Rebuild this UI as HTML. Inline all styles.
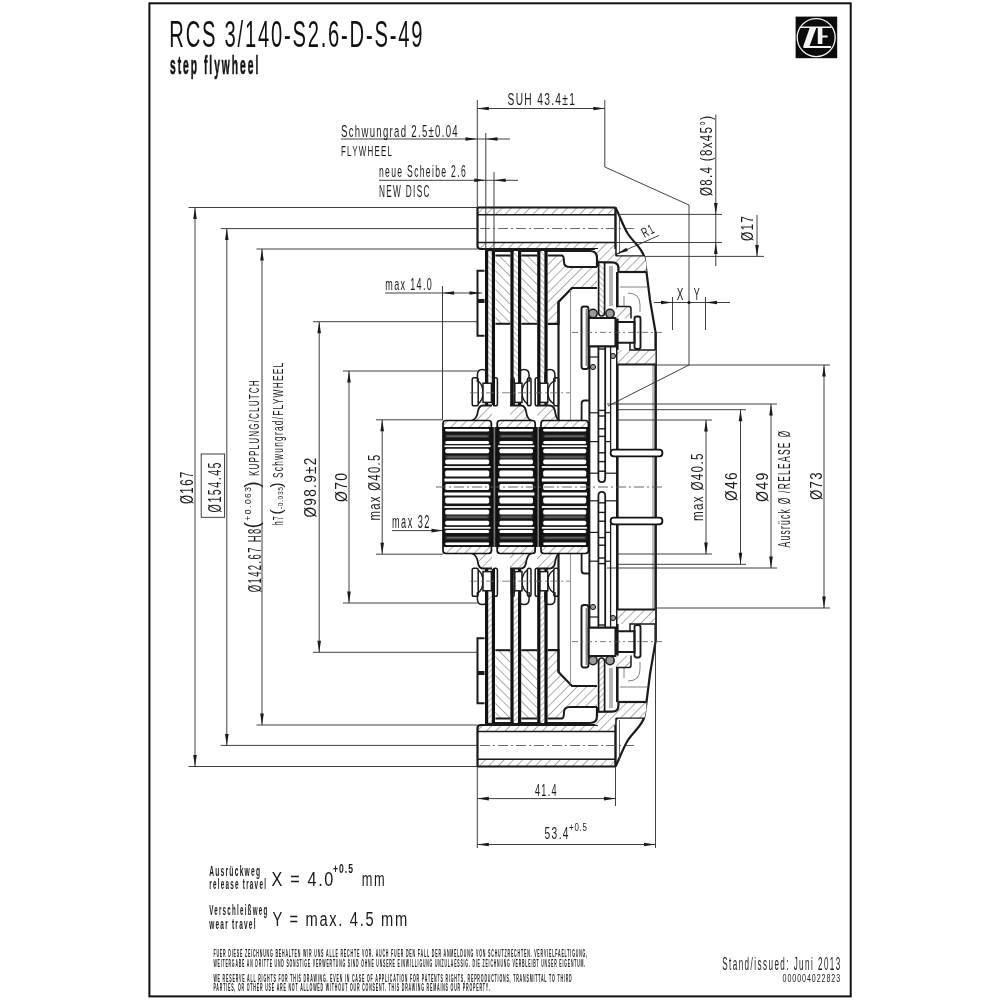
<!DOCTYPE html>
<html><head><meta charset="utf-8"><style>
html,body{margin:0;padding:0;background:#fff;width:1000px;height:1000px;overflow:hidden}
svg{display:block;will-change:transform}
text{font-family:"Liberation Sans",sans-serif}
</style></head><body>
<svg width="1000" height="1000" viewBox="0 0 1000 1000" font-family="Liberation Sans, sans-serif" stroke-linecap="butt">
<defs>
<pattern id="h" patternUnits="userSpaceOnUse" width="6.6" height="6.6" patternTransform="rotate(45)">
<rect width="6.6" height="6.6" fill="#fff"/><line x1="0" y1="0" x2="0" y2="6.6" stroke="#5a5a5a" stroke-width="1.0"/></pattern>
<pattern id="hm" patternUnits="userSpaceOnUse" width="6.6" height="6.6" patternTransform="rotate(-45)">
<rect width="6.6" height="6.6" fill="#fff"/><line x1="0" y1="0" x2="0" y2="6.6" stroke="#5a5a5a" stroke-width="1.0"/></pattern>
<pattern id="hb" patternUnits="userSpaceOnUse" width="6.6" height="6.6" patternTransform="rotate(-45)">
<rect width="6.6" height="6.6" fill="#fff"/><line x1="0" y1="0" x2="0" y2="6.6" stroke="#5a5a5a" stroke-width="1.0"/></pattern>
<pattern id="hbm" patternUnits="userSpaceOnUse" width="6.6" height="6.6" patternTransform="rotate(45)">
<rect width="6.6" height="6.6" fill="#fff"/><line x1="0" y1="0" x2="0" y2="6.6" stroke="#5a5a5a" stroke-width="1.0"/></pattern>
<pattern id="h2" patternUnits="userSpaceOnUse" width="4" height="4" patternTransform="rotate(-45)">
<rect width="4" height="4" fill="#fff"/><line x1="0" y1="0" x2="0" y2="4" stroke="#666" stroke-width="0.9"/></pattern>
</defs>
<rect width="1000" height="1000" fill="#fff"/>
<g id="top"><rect x="477.5" y="207.5" width="138" height="7.3" fill="url(#h)" stroke="none"/>
<rect x="477.5" y="242.5" width="138" height="6.5" fill="url(#h)" stroke="none"/>
<line x1="477.5" y1="207.5" x2="615.5" y2="207.5" stroke="#1a1a1a" stroke-width="2.2"/>
<line x1="477.5" y1="214.8" x2="615.5" y2="214.8" stroke="#1a1a1a" stroke-width="1.5"/>
<line x1="477.5" y1="242.5" x2="615.5" y2="242.5" stroke="#1a1a1a" stroke-width="1.5"/>
<path d="M477.5,207.5 V246 Q477.5,249 481,249 H598" stroke="#1a1a1a" stroke-width="2.2" fill="none" />
<path d="M615.5,207.5 V253 Q615.5,256.4 619,256.4 H644.5" stroke="#1a1a1a" stroke-width="2.4" fill="none" />
<line x1="480" y1="228.5" x2="634" y2="228.5" stroke="#444" stroke-width="0.8" stroke-dasharray="10,3,2,3"/>
<path d="M615.5,207.5 C619,214 623,226 628,234 C634,243 643,249 644.5,258 L646,268 L650,300 L655.5,332 V487" stroke="#1a1a1a" stroke-width="2.2" fill="none" />
<path d="M595,249 H615.2 V256.4 H644.5 L646.4,264 L646.4,272 H618.4 V268 Q617,262.4 612,262.4 H597 Q595.5,262 595.5,258 Z" fill="url(#h)" stroke="none"/>
<path d="M597,262.4 H612 Q618.4,262.4 618.4,268 V272" stroke="#1a1a1a" stroke-width="2.2" fill="none" />
<line x1="618.4" y1="272" x2="646.4" y2="272" stroke="#1a1a1a" stroke-width="2.2"/>
<line x1="619.5" y1="215" x2="619.5" y2="254" stroke="#444" stroke-width="0.8"/>
<line x1="617.3" y1="272" x2="617.3" y2="487" stroke="#1a1a1a" stroke-width="2.6"/>
<line x1="653" y1="365" x2="653" y2="487" stroke="#555" stroke-width="0.8"/>
<line x1="656" y1="332" x2="656" y2="487" stroke="#1a1a1a" stroke-width="1.5"/>
<path d="M617.5,350 H655.5 V364.5 H617.5 Z" fill="url(#h)" stroke="none"/>
<line x1="617.5" y1="364.5" x2="655.5" y2="364.5" stroke="#1a1a1a" stroke-width="2.2"/>
<path d="M630,343 V350 H655.5" stroke="#1a1a1a" stroke-width="1.5" fill="none" />
<line x1="620" y1="287" x2="648" y2="287" stroke="#666" stroke-width="0.8"/>
<path d="M628,293 Q640,293 640,305 V312" stroke="#666" stroke-width="0.8" fill="none" />
<path d="M624,296 V312" stroke="#666" stroke-width="0.8" fill="none" />
<path d="M485,251 H590 Q597,251 597,258 V267" stroke="#1a1a1a" stroke-width="2.2" fill="none" />
<rect x="495.4" y="255.5" width="15" height="68.3" fill="url(#hb)"/>
<line x1="495.4" y1="255.5" x2="510.4" y2="255.5" stroke="#1a1a1a" stroke-width="2.0"/>
<line x1="495.4" y1="323.8" x2="510.4" y2="323.8" stroke="#1a1a1a" stroke-width="2.0"/>
<rect x="521.4" y="255.5" width="15.6" height="68.3" fill="url(#hb)"/>
<line x1="521.4" y1="255.5" x2="537" y2="255.5" stroke="#1a1a1a" stroke-width="2.0"/>
<line x1="521.4" y1="323.8" x2="537" y2="323.8" stroke="#1a1a1a" stroke-width="2.0"/>
<path d="M547.6,256 H563 Q565,267 570,267 H597 V288 H572 L558.5,302 V323.8 H547.6 Z" fill="url(#h)" stroke="none"/>
<path d="M547.6,255.5 H562 Q564,256 564,262 Q564,267 570,267 H597" stroke="#1a1a1a" stroke-width="2.0" fill="none" />
<path d="M597,288 H572 L558.5,302 V323.8 H547.6" stroke="#1a1a1a" stroke-width="2.2" fill="none" />
<line x1="558.5" y1="302" x2="558.5" y2="420" stroke="#1a1a1a" stroke-width="2.2"/>
<line x1="570.5" y1="290" x2="570.5" y2="420" stroke="#888" stroke-width="0.9"/>
<rect x="488.2" y="251" width="3.6" height="127" fill="url(#h2)"/>
<rect x="485" y="251" width="3.2" height="154" fill="#111"/>
<rect x="491.8" y="251" width="3.2" height="154" fill="#111"/>
<rect x="513.6" y="251" width="4.4" height="127" fill="url(#h2)"/>
<rect x="510.4" y="251" width="3.2" height="154" fill="#111"/>
<rect x="518" y="251" width="3.2" height="154" fill="#111"/>
<rect x="540.4" y="251" width="4" height="127" fill="url(#h2)"/>
<rect x="537.2" y="251" width="3.2" height="154" fill="#111"/>
<rect x="544.4" y="251" width="3.2" height="154" fill="#111"/>
<path d="M484.5,270.8 H477.5 V300 H484.5" stroke="#1a1a1a" stroke-width="2.0" fill="none" />
<path d="M484.5,302 H477.5 V335.8 H484.5" stroke="#1a1a1a" stroke-width="2.0" fill="none" />
<path d="M477.4,382 V375 Q477.4,369.4 482.4,369.4 Q487.4,369.4 487.4,375 V382" fill="none" stroke="#1a1a1a" stroke-width="1.5"/>
<rect x="472.2" y="377.8" width="6" height="28" rx="1.8" fill="none" stroke="#1a1a1a" stroke-width="1.5"/>
<rect x="493.2" y="377.8" width="4.2" height="28" rx="1.8" fill="none" stroke="#1a1a1a" stroke-width="1.5"/>
<path d="M478.2,381 Q483,385 483,392.8 Q483,400 478.2,404 M493.2,381 Q491.4,385 491.4,392.8 Q491.4,400 493.2,404" fill="none" stroke="#1a1a1a" stroke-width="1.5"/>
<rect x="483" y="383.2" width="8.4" height="19.2" fill="#fff" stroke="#1a1a1a" stroke-width="1.5"/>
<path d="M519.1,382 V375 Q519.1,369.4 524.1,369.4 Q529.1,369.4 529.1,375 V382" fill="none" stroke="#1a1a1a" stroke-width="1.5"/>
<rect x="511.2" y="377.8" width="3" height="28" rx="1.8" fill="none" stroke="#1a1a1a" stroke-width="1.5"/>
<rect x="527.4" y="377.8" width="3.6" height="28" rx="1.8" fill="none" stroke="#1a1a1a" stroke-width="1.5"/>
<path d="M514.2,381 Q514.8,385 514.8,392.8 Q514.8,400 514.2,404 M527.4,381 Q522,385 522,392.8 Q522,400 527.4,404" fill="none" stroke="#1a1a1a" stroke-width="1.5"/>
<rect x="514.8" y="383.2" width="7.2" height="19.2" fill="#fff" stroke="#1a1a1a" stroke-width="1.5"/>
<path d="M544.9,382 V375 Q544.9,369.4 549.9,369.4 Q554.9,369.4 554.9,375 V382" fill="none" stroke="#1a1a1a" stroke-width="1.5"/>
<rect x="535.2" y="377.8" width="4.2" height="28" rx="1.8" fill="none" stroke="#1a1a1a" stroke-width="1.5"/>
<rect x="553.8" y="377.8" width="4.8" height="28" rx="1.8" fill="none" stroke="#1a1a1a" stroke-width="1.5"/>
<path d="M539.4,381 Q540,385 540,392.8 Q540,400 539.4,404 M553.8,381 Q547.8,385 547.8,392.8 Q547.8,400 553.8,404" fill="none" stroke="#1a1a1a" stroke-width="1.5"/>
<rect x="540" y="383.2" width="7.8" height="19.2" fill="#fff" stroke="#1a1a1a" stroke-width="1.5"/>
<path d="M471.8,420.5 Q477,419 478,411 Q479,405.5 483,405.5 H492 V420.5 Z" fill="url(#h)" stroke="none"/>
<path d="M471.8,420.5 Q477,419 478,411 Q479,405.5 483,405.5 H492" stroke="#1a1a1a" stroke-width="1.8" fill="none" />
<path d="M510,405.5 H520.8 Q525,405.5 526,411 Q527,419 531.3,420.5 H510 Z" fill="url(#h)" stroke="none"/>
<path d="M510,405.5 H520.8 Q525,405.5 526,411 Q527,419 531.3,420.5" stroke="#1a1a1a" stroke-width="1.8" fill="none" />
<path d="M537,405.5 H549.5 Q554,405.5 555,411 Q556,419 559.3,420.5 H537 Z" fill="url(#h)" stroke="none"/>
<path d="M537,405.5 H549.5 Q554,405.5 555,411 Q556,419 559.3,420.5" stroke="#1a1a1a" stroke-width="1.8" fill="none" />
<line x1="470" y1="392.8" x2="570" y2="392.8" stroke="#666" stroke-width="0.8" stroke-dasharray="8,3,2,3"/>
<rect x="581.5" y="306.5" width="7" height="62.5" rx="2.5" fill="#fff" stroke="#1a1a1a" stroke-width="1.9"/>
<rect x="634.5" y="316.5" width="6" height="32.5" rx="2.2" fill="#fff" stroke="#1a1a1a" stroke-width="1.9"/>
<circle cx="593" cy="313.5" r="4.2" fill="#9a9a9a" stroke="#1a1a1a" stroke-width="1.5"/>
<circle cx="610" cy="313.5" r="4.2" fill="#9a9a9a" stroke="#1a1a1a" stroke-width="1.5"/>
<path d="M588.5,318 H615.5 V346.4 H588.5 Z" stroke="#1a1a1a" stroke-width="2.1" fill="none" />
<line x1="572" y1="332.4" x2="664" y2="332.4" stroke="#555" stroke-width="0.8" stroke-dasharray="6,3,2,3"/>
<rect x="585.6" y="309" width="2" height="57" fill="#888"/>
<path d="M615.5,322 H634.5 V342.7 H615.5" stroke="#1a1a1a" stroke-width="2.0" fill="none" />
<path d="M616,306.5 H631 V318.5 H616 Z" fill="url(#h)" stroke="none"/>
<path d="M616,306.5 H629 Q631,306.5 631,309 V318.5" stroke="#1a1a1a" stroke-width="1.5" fill="none" />
<circle cx="613" cy="356" r="2.6" fill="#999" stroke="#1a1a1a" stroke-width="1"/>
<circle cx="593" cy="367" r="2.6" fill="#999" stroke="#1a1a1a" stroke-width="1"/>
<line x1="589.4" y1="346" x2="589.4" y2="487" stroke="#1a1a1a" stroke-width="2.0"/>
<path d="M581.6,420.5 V403.5 Q581.6,400.5 584.5,400.5 H589" stroke="#1a1a1a" stroke-width="1.8" fill="none" />
<path d="M598.6,262.5 V312 Q598.6,316 601.6,316 Q604.6,316 604.6,312 V262.5 Z" fill="url(#h2)" stroke="#1a1a1a" stroke-width="1.7"/>
<line x1="610" y1="266" x2="610" y2="306" stroke="#444" stroke-width="0.8"/>
<line x1="612" y1="266" x2="612" y2="306" stroke="#444" stroke-width="0.8"/>
<path d="M598.4,346 V478.5 Q598.4,482.2 601.8,482.2 Q605.2,482.2 605.2,478.5 V346" stroke="#1a1a1a" stroke-width="1.8" fill="none" />
<line x1="598.4" y1="349" x2="605.2" y2="349" stroke="#1a1a1a" stroke-width="1.4"/>
<line x1="598.4" y1="410.4" x2="605.2" y2="410.4" stroke="#1a1a1a" stroke-width="1.4"/>
<line x1="598.4" y1="416" x2="605.2" y2="416" stroke="#1a1a1a" stroke-width="1.4"/>
<line x1="598.4" y1="428.8" x2="605.2" y2="428.8" stroke="#1a1a1a" stroke-width="1.4"/>
<line x1="598.4" y1="436.4" x2="605.2" y2="436.4" stroke="#1a1a1a" stroke-width="1.4"/>
<line x1="598.4" y1="452.8" x2="605.2" y2="452.8" stroke="#1a1a1a" stroke-width="1.4"/>
<line x1="598.4" y1="461.6" x2="605.2" y2="461.6" stroke="#1a1a1a" stroke-width="1.4"/>
<line x1="598.4" y1="471.2" x2="605.2" y2="471.2" stroke="#1a1a1a" stroke-width="1.4"/>
<line x1="589.4" y1="357" x2="598.4" y2="357" stroke="#1a1a1a" stroke-width="1.2"/>
<line x1="589.4" y1="412.8" x2="598.4" y2="412.8" stroke="#1a1a1a" stroke-width="1.2"/>
<line x1="589.4" y1="441.6" x2="598.4" y2="441.6" stroke="#1a1a1a" stroke-width="1.2"/>
<line x1="589.4" y1="473.2" x2="598.4" y2="473.2" stroke="#1a1a1a" stroke-width="1.2"/>
<line x1="605.2" y1="412.8" x2="610.6" y2="412.8" stroke="#1a1a1a" stroke-width="1.2"/>
<line x1="605.2" y1="441.6" x2="610.6" y2="441.6" stroke="#1a1a1a" stroke-width="1.2"/>
<line x1="605.2" y1="473.2" x2="617" y2="473.2" stroke="#1a1a1a" stroke-width="1.2"/>
<line x1="610.6" y1="346" x2="610.6" y2="450" stroke="#1a1a1a" stroke-width="1.3"/></g>
<g transform="matrix(1,0,0,-1,0,974)"><rect x="477.5" y="207.5" width="138" height="7.3" fill="url(#hm)" stroke="none"/>
<rect x="477.5" y="242.5" width="138" height="6.5" fill="url(#hm)" stroke="none"/>
<line x1="477.5" y1="207.5" x2="615.5" y2="207.5" stroke="#1a1a1a" stroke-width="2.2"/>
<line x1="477.5" y1="214.8" x2="615.5" y2="214.8" stroke="#1a1a1a" stroke-width="1.5"/>
<line x1="477.5" y1="242.5" x2="615.5" y2="242.5" stroke="#1a1a1a" stroke-width="1.5"/>
<path d="M477.5,207.5 V246 Q477.5,249 481,249 H598" stroke="#1a1a1a" stroke-width="2.2" fill="none" />
<path d="M615.5,207.5 V253 Q615.5,256.4 619,256.4 H644.5" stroke="#1a1a1a" stroke-width="2.4" fill="none" />
<line x1="480" y1="228.5" x2="634" y2="228.5" stroke="#444" stroke-width="0.8" stroke-dasharray="10,3,2,3"/>
<path d="M615.5,207.5 C619,214 623,226 628,234 C634,243 643,249 644.5,258 L646,268 L650,300 L655.5,332 V487" stroke="#1a1a1a" stroke-width="2.2" fill="none" />
<path d="M595,249 H615.2 V256.4 H644.5 L646.4,264 L646.4,272 H618.4 V268 Q617,262.4 612,262.4 H597 Q595.5,262 595.5,258 Z" fill="url(#hm)" stroke="none"/>
<path d="M597,262.4 H612 Q618.4,262.4 618.4,268 V272" stroke="#1a1a1a" stroke-width="2.2" fill="none" />
<line x1="618.4" y1="272" x2="646.4" y2="272" stroke="#1a1a1a" stroke-width="2.2"/>
<line x1="619.5" y1="215" x2="619.5" y2="254" stroke="#444" stroke-width="0.8"/>
<line x1="617.3" y1="272" x2="617.3" y2="487" stroke="#1a1a1a" stroke-width="2.6"/>
<line x1="653" y1="365" x2="653" y2="487" stroke="#555" stroke-width="0.8"/>
<line x1="656" y1="332" x2="656" y2="487" stroke="#1a1a1a" stroke-width="1.5"/>
<path d="M617.5,350 H655.5 V364.5 H617.5 Z" fill="url(#hm)" stroke="none"/>
<line x1="617.5" y1="364.5" x2="655.5" y2="364.5" stroke="#1a1a1a" stroke-width="2.2"/>
<path d="M630,343 V350 H655.5" stroke="#1a1a1a" stroke-width="1.5" fill="none" />
<line x1="620" y1="287" x2="648" y2="287" stroke="#666" stroke-width="0.8"/>
<path d="M628,293 Q640,293 640,305 V312" stroke="#666" stroke-width="0.8" fill="none" />
<path d="M624,296 V312" stroke="#666" stroke-width="0.8" fill="none" />
<path d="M485,251 H590 Q597,251 597,258 V267" stroke="#1a1a1a" stroke-width="2.2" fill="none" />
<rect x="495.4" y="255.5" width="15" height="68.3" fill="url(#hbm)"/>
<line x1="495.4" y1="255.5" x2="510.4" y2="255.5" stroke="#1a1a1a" stroke-width="2.0"/>
<line x1="495.4" y1="323.8" x2="510.4" y2="323.8" stroke="#1a1a1a" stroke-width="2.0"/>
<rect x="521.4" y="255.5" width="15.6" height="68.3" fill="url(#hbm)"/>
<line x1="521.4" y1="255.5" x2="537" y2="255.5" stroke="#1a1a1a" stroke-width="2.0"/>
<line x1="521.4" y1="323.8" x2="537" y2="323.8" stroke="#1a1a1a" stroke-width="2.0"/>
<path d="M547.6,256 H563 Q565,267 570,267 H597 V288 H572 L558.5,302 V323.8 H547.6 Z" fill="url(#hm)" stroke="none"/>
<path d="M547.6,255.5 H562 Q564,256 564,262 Q564,267 570,267 H597" stroke="#1a1a1a" stroke-width="2.0" fill="none" />
<path d="M597,288 H572 L558.5,302 V323.8 H547.6" stroke="#1a1a1a" stroke-width="2.2" fill="none" />
<line x1="558.5" y1="302" x2="558.5" y2="420" stroke="#1a1a1a" stroke-width="2.2"/>
<line x1="570.5" y1="290" x2="570.5" y2="420" stroke="#888" stroke-width="0.9"/>
<rect x="488.2" y="251" width="3.6" height="127" fill="url(#h2)"/>
<rect x="485" y="251" width="3.2" height="154" fill="#111"/>
<rect x="491.8" y="251" width="3.2" height="154" fill="#111"/>
<rect x="513.6" y="251" width="4.4" height="127" fill="url(#h2)"/>
<rect x="510.4" y="251" width="3.2" height="154" fill="#111"/>
<rect x="518" y="251" width="3.2" height="154" fill="#111"/>
<rect x="540.4" y="251" width="4" height="127" fill="url(#h2)"/>
<rect x="537.2" y="251" width="3.2" height="154" fill="#111"/>
<rect x="544.4" y="251" width="3.2" height="154" fill="#111"/>
<path d="M484.5,270.8 H477.5 V300 H484.5" stroke="#1a1a1a" stroke-width="2.0" fill="none" />
<path d="M484.5,302 H477.5 V335.8 H484.5" stroke="#1a1a1a" stroke-width="2.0" fill="none" />
<path d="M477.4,382 V375 Q477.4,369.4 482.4,369.4 Q487.4,369.4 487.4,375 V382" fill="none" stroke="#1a1a1a" stroke-width="1.5"/>
<rect x="472.2" y="377.8" width="6" height="28" rx="1.8" fill="none" stroke="#1a1a1a" stroke-width="1.5"/>
<rect x="493.2" y="377.8" width="4.2" height="28" rx="1.8" fill="none" stroke="#1a1a1a" stroke-width="1.5"/>
<path d="M478.2,381 Q483,385 483,392.8 Q483,400 478.2,404 M493.2,381 Q491.4,385 491.4,392.8 Q491.4,400 493.2,404" fill="none" stroke="#1a1a1a" stroke-width="1.5"/>
<rect x="483" y="383.2" width="8.4" height="19.2" fill="#fff" stroke="#1a1a1a" stroke-width="1.5"/>
<path d="M519.1,382 V375 Q519.1,369.4 524.1,369.4 Q529.1,369.4 529.1,375 V382" fill="none" stroke="#1a1a1a" stroke-width="1.5"/>
<rect x="511.2" y="377.8" width="3" height="28" rx="1.8" fill="none" stroke="#1a1a1a" stroke-width="1.5"/>
<rect x="527.4" y="377.8" width="3.6" height="28" rx="1.8" fill="none" stroke="#1a1a1a" stroke-width="1.5"/>
<path d="M514.2,381 Q514.8,385 514.8,392.8 Q514.8,400 514.2,404 M527.4,381 Q522,385 522,392.8 Q522,400 527.4,404" fill="none" stroke="#1a1a1a" stroke-width="1.5"/>
<rect x="514.8" y="383.2" width="7.2" height="19.2" fill="#fff" stroke="#1a1a1a" stroke-width="1.5"/>
<path d="M544.9,382 V375 Q544.9,369.4 549.9,369.4 Q554.9,369.4 554.9,375 V382" fill="none" stroke="#1a1a1a" stroke-width="1.5"/>
<rect x="535.2" y="377.8" width="4.2" height="28" rx="1.8" fill="none" stroke="#1a1a1a" stroke-width="1.5"/>
<rect x="553.8" y="377.8" width="4.8" height="28" rx="1.8" fill="none" stroke="#1a1a1a" stroke-width="1.5"/>
<path d="M539.4,381 Q540,385 540,392.8 Q540,400 539.4,404 M553.8,381 Q547.8,385 547.8,392.8 Q547.8,400 553.8,404" fill="none" stroke="#1a1a1a" stroke-width="1.5"/>
<rect x="540" y="383.2" width="7.8" height="19.2" fill="#fff" stroke="#1a1a1a" stroke-width="1.5"/>
<path d="M471.8,420.5 Q477,419 478,411 Q479,405.5 483,405.5 H492 V420.5 Z" fill="url(#hm)" stroke="none"/>
<path d="M471.8,420.5 Q477,419 478,411 Q479,405.5 483,405.5 H492" stroke="#1a1a1a" stroke-width="1.8" fill="none" />
<path d="M510,405.5 H520.8 Q525,405.5 526,411 Q527,419 531.3,420.5 H510 Z" fill="url(#hm)" stroke="none"/>
<path d="M510,405.5 H520.8 Q525,405.5 526,411 Q527,419 531.3,420.5" stroke="#1a1a1a" stroke-width="1.8" fill="none" />
<path d="M537,405.5 H549.5 Q554,405.5 555,411 Q556,419 559.3,420.5 H537 Z" fill="url(#hm)" stroke="none"/>
<path d="M537,405.5 H549.5 Q554,405.5 555,411 Q556,419 559.3,420.5" stroke="#1a1a1a" stroke-width="1.8" fill="none" />
<line x1="470" y1="392.8" x2="570" y2="392.8" stroke="#666" stroke-width="0.8" stroke-dasharray="8,3,2,3"/>
<rect x="581.5" y="306.5" width="7" height="62.5" rx="2.5" fill="#fff" stroke="#1a1a1a" stroke-width="1.9"/>
<rect x="634.5" y="316.5" width="6" height="32.5" rx="2.2" fill="#fff" stroke="#1a1a1a" stroke-width="1.9"/>
<circle cx="593" cy="313.5" r="4.2" fill="#9a9a9a" stroke="#1a1a1a" stroke-width="1.5"/>
<circle cx="610" cy="313.5" r="4.2" fill="#9a9a9a" stroke="#1a1a1a" stroke-width="1.5"/>
<path d="M588.5,318 H615.5 V346.4 H588.5 Z" stroke="#1a1a1a" stroke-width="2.1" fill="none" />
<line x1="572" y1="332.4" x2="664" y2="332.4" stroke="#555" stroke-width="0.8" stroke-dasharray="6,3,2,3"/>
<rect x="585.6" y="309" width="2" height="57" fill="#888"/>
<path d="M615.5,322 H634.5 V342.7 H615.5" stroke="#1a1a1a" stroke-width="2.0" fill="none" />
<path d="M616,306.5 H631 V318.5 H616 Z" fill="url(#hm)" stroke="none"/>
<path d="M616,306.5 H629 Q631,306.5 631,309 V318.5" stroke="#1a1a1a" stroke-width="1.5" fill="none" />
<circle cx="613" cy="356" r="2.6" fill="#999" stroke="#1a1a1a" stroke-width="1"/>
<circle cx="593" cy="367" r="2.6" fill="#999" stroke="#1a1a1a" stroke-width="1"/>
<line x1="589.4" y1="346" x2="589.4" y2="487" stroke="#1a1a1a" stroke-width="2.0"/>
<path d="M581.6,420.5 V403.5 Q581.6,400.5 584.5,400.5 H589" stroke="#1a1a1a" stroke-width="1.8" fill="none" />
<path d="M598.6,262.5 V312 Q598.6,316 601.6,316 Q604.6,316 604.6,312 V262.5 Z" fill="url(#h2)" stroke="#1a1a1a" stroke-width="1.7"/>
<line x1="610" y1="266" x2="610" y2="306" stroke="#444" stroke-width="0.8"/>
<line x1="612" y1="266" x2="612" y2="306" stroke="#444" stroke-width="0.8"/>
<path d="M598.4,346 V478.5 Q598.4,482.2 601.8,482.2 Q605.2,482.2 605.2,478.5 V346" stroke="#1a1a1a" stroke-width="1.8" fill="none" />
<line x1="598.4" y1="349" x2="605.2" y2="349" stroke="#1a1a1a" stroke-width="1.4"/>
<line x1="598.4" y1="410.4" x2="605.2" y2="410.4" stroke="#1a1a1a" stroke-width="1.4"/>
<line x1="598.4" y1="416" x2="605.2" y2="416" stroke="#1a1a1a" stroke-width="1.4"/>
<line x1="598.4" y1="428.8" x2="605.2" y2="428.8" stroke="#1a1a1a" stroke-width="1.4"/>
<line x1="598.4" y1="436.4" x2="605.2" y2="436.4" stroke="#1a1a1a" stroke-width="1.4"/>
<line x1="598.4" y1="452.8" x2="605.2" y2="452.8" stroke="#1a1a1a" stroke-width="1.4"/>
<line x1="598.4" y1="461.6" x2="605.2" y2="461.6" stroke="#1a1a1a" stroke-width="1.4"/>
<line x1="598.4" y1="471.2" x2="605.2" y2="471.2" stroke="#1a1a1a" stroke-width="1.4"/>
<line x1="589.4" y1="357" x2="598.4" y2="357" stroke="#1a1a1a" stroke-width="1.2"/>
<line x1="589.4" y1="412.8" x2="598.4" y2="412.8" stroke="#1a1a1a" stroke-width="1.2"/>
<line x1="589.4" y1="441.6" x2="598.4" y2="441.6" stroke="#1a1a1a" stroke-width="1.2"/>
<line x1="589.4" y1="473.2" x2="598.4" y2="473.2" stroke="#1a1a1a" stroke-width="1.2"/>
<line x1="605.2" y1="412.8" x2="610.6" y2="412.8" stroke="#1a1a1a" stroke-width="1.2"/>
<line x1="605.2" y1="441.6" x2="610.6" y2="441.6" stroke="#1a1a1a" stroke-width="1.2"/>
<line x1="605.2" y1="473.2" x2="617" y2="473.2" stroke="#1a1a1a" stroke-width="1.2"/>
<line x1="610.6" y1="346" x2="610.6" y2="450" stroke="#1a1a1a" stroke-width="1.3"/></g>
<rect x="443" y="427" width="145.4" height="120" fill="#151515"/>
<rect x="445.5" y="434.6" width="43.4" height="3.2" fill="#3a3a3a"/>
<rect x="447" y="435.7" width="40.4" height="1" fill="#777"/>
<rect x="445.5" y="455.4" width="43.4" height="3.2" fill="#3a3a3a"/>
<rect x="447" y="456.5" width="40.4" height="1" fill="#777"/>
<rect x="445.5" y="536.2" width="43.4" height="3.2" fill="#3a3a3a"/>
<rect x="447" y="537.3" width="40.4" height="1" fill="#777"/>
<rect x="445.5" y="515.4" width="43.4" height="3.2" fill="#3a3a3a"/>
<rect x="447" y="516.5" width="40.4" height="1" fill="#777"/>
<rect x="445.2" y="428.8" width="44" height="2.8" rx="1.4" fill="#fff"/>
<rect x="445.2" y="440.9" width="44" height="3" rx="1.5" fill="#fff"/>
<rect x="445.2" y="448.8" width="44" height="4.4" rx="1.6" fill="#fff"/>
<rect x="445.2" y="459.4" width="44" height="4.8" rx="1.6" fill="#fff"/>
<rect x="445.2" y="470.6" width="44" height="6" rx="1.6" fill="#fff"/>
<rect x="445.2" y="484.1" width="44" height="5.8" rx="1.6" fill="#fff"/>
<rect x="445.2" y="542.4" width="44" height="2.8" rx="1.4" fill="#fff"/>
<rect x="445.2" y="530.1" width="44" height="3" rx="1.5" fill="#fff"/>
<rect x="445.2" y="520.8" width="44" height="4.4" rx="1.6" fill="#fff"/>
<rect x="445.2" y="509.8" width="44" height="4.8" rx="1.6" fill="#fff"/>
<rect x="445.2" y="497.4" width="44" height="6" rx="1.6" fill="#fff"/>
<rect x="499.7" y="434.6" width="33" height="3.2" fill="#3a3a3a"/>
<rect x="501.2" y="435.7" width="30" height="1" fill="#777"/>
<rect x="499.7" y="455.4" width="33" height="3.2" fill="#3a3a3a"/>
<rect x="501.2" y="456.5" width="30" height="1" fill="#777"/>
<rect x="499.7" y="536.2" width="33" height="3.2" fill="#3a3a3a"/>
<rect x="501.2" y="537.3" width="30" height="1" fill="#777"/>
<rect x="499.7" y="515.4" width="33" height="3.2" fill="#3a3a3a"/>
<rect x="501.2" y="516.5" width="30" height="1" fill="#777"/>
<rect x="499.4" y="428.8" width="33.6" height="2.8" rx="1.4" fill="#fff"/>
<rect x="499.4" y="440.9" width="33.6" height="3" rx="1.5" fill="#fff"/>
<rect x="499.4" y="448.8" width="33.6" height="4.4" rx="1.6" fill="#fff"/>
<rect x="499.4" y="459.4" width="33.6" height="4.8" rx="1.6" fill="#fff"/>
<rect x="499.4" y="470.6" width="33.6" height="6" rx="1.6" fill="#fff"/>
<rect x="499.4" y="484.1" width="33.6" height="5.8" rx="1.6" fill="#fff"/>
<rect x="499.4" y="542.4" width="33.6" height="2.8" rx="1.4" fill="#fff"/>
<rect x="499.4" y="530.1" width="33.6" height="3" rx="1.5" fill="#fff"/>
<rect x="499.4" y="520.8" width="33.6" height="4.4" rx="1.6" fill="#fff"/>
<rect x="499.4" y="509.8" width="33.6" height="4.8" rx="1.6" fill="#fff"/>
<rect x="499.4" y="497.4" width="33.6" height="6" rx="1.6" fill="#fff"/>
<rect x="543.5" y="434.6" width="42.4" height="3.2" fill="#3a3a3a"/>
<rect x="545" y="435.7" width="39.4" height="1" fill="#777"/>
<rect x="543.5" y="455.4" width="42.4" height="3.2" fill="#3a3a3a"/>
<rect x="545" y="456.5" width="39.4" height="1" fill="#777"/>
<rect x="543.5" y="536.2" width="42.4" height="3.2" fill="#3a3a3a"/>
<rect x="545" y="537.3" width="39.4" height="1" fill="#777"/>
<rect x="543.5" y="515.4" width="42.4" height="3.2" fill="#3a3a3a"/>
<rect x="545" y="516.5" width="39.4" height="1" fill="#777"/>
<rect x="543.2" y="428.8" width="43" height="2.8" rx="1.4" fill="#fff"/>
<rect x="543.2" y="440.9" width="43" height="3" rx="1.5" fill="#fff"/>
<rect x="543.2" y="448.8" width="43" height="4.4" rx="1.6" fill="#fff"/>
<rect x="543.2" y="459.4" width="43" height="4.8" rx="1.6" fill="#fff"/>
<rect x="543.2" y="470.6" width="43" height="6" rx="1.6" fill="#fff"/>
<rect x="543.2" y="484.1" width="43" height="5.8" rx="1.6" fill="#fff"/>
<rect x="543.2" y="542.4" width="43" height="2.8" rx="1.4" fill="#fff"/>
<rect x="543.2" y="530.1" width="43" height="3" rx="1.5" fill="#fff"/>
<rect x="543.2" y="520.8" width="43" height="4.4" rx="1.6" fill="#fff"/>
<rect x="543.2" y="509.8" width="43" height="4.8" rx="1.6" fill="#fff"/>
<rect x="543.2" y="497.4" width="43" height="6" rx="1.6" fill="#fff"/>
<rect x="444.5" y="445.3" width="142.5" height="1.8" fill="#fff"/>
<rect x="444.5" y="466.1" width="142.5" height="1.8" fill="#fff"/>
<rect x="444.5" y="478.5" width="142.5" height="3" fill="#fff"/>
<rect x="444.5" y="526.9" width="142.5" height="1.8" fill="#fff"/>
<rect x="444.5" y="506.1" width="142.5" height="1.8" fill="#fff"/>
<rect x="444.5" y="492.5" width="142.5" height="3" fill="#fff"/>
<rect x="491.4" y="427" width="5.8" height="120" fill="#111"/>
<rect x="493.6" y="427" width="1.6" height="120" fill="#777"/>
<rect x="535.2" y="427" width="5.8" height="120" fill="#111"/>
<rect x="537.4" y="427" width="1.6" height="120" fill="#777"/>
<rect x="443" y="420.5" width="48.4" height="7" fill="url(#h)"/>
<rect x="443" y="546.5" width="48.4" height="7" fill="url(#h)"/>
<rect x="443" y="420.5" width="48.4" height="133" rx="3" fill="none" stroke="#111" stroke-width="1.7"/>
<line x1="443" y1="427.8" x2="491.4" y2="427.8" stroke="#111" stroke-width="1.8"/>
<line x1="443" y1="546.2" x2="491.4" y2="546.2" stroke="#111" stroke-width="1.8"/>
<rect x="497.2" y="420.5" width="38" height="7" fill="url(#h)"/>
<rect x="497.2" y="546.5" width="38" height="7" fill="url(#h)"/>
<rect x="497.2" y="420.5" width="38" height="133" rx="3" fill="none" stroke="#111" stroke-width="1.7"/>
<line x1="497.2" y1="427.8" x2="535.2" y2="427.8" stroke="#111" stroke-width="1.8"/>
<line x1="497.2" y1="546.2" x2="535.2" y2="546.2" stroke="#111" stroke-width="1.8"/>
<rect x="541" y="420.5" width="47.4" height="7" fill="url(#h)"/>
<rect x="541" y="546.5" width="47.4" height="7" fill="url(#h)"/>
<rect x="541" y="420.5" width="47.4" height="133" rx="3" fill="none" stroke="#111" stroke-width="1.7"/>
<line x1="541" y1="427.8" x2="588.4" y2="427.8" stroke="#111" stroke-width="1.8"/>
<line x1="541" y1="546.2" x2="588.4" y2="546.2" stroke="#111" stroke-width="1.8"/>
<line x1="436" y1="487" x2="662" y2="487" stroke="#555" stroke-width="0.9" stroke-dasharray="10,3,2,3"/>
<rect x="610.6" y="449.7" width="51.8" height="6.6" rx="3" fill="#fff" stroke="#111" stroke-width="1.8"/>
<rect x="610.6" y="517.7" width="51.8" height="6.6" rx="3" fill="#fff" stroke="#111" stroke-width="1.8"/>
<rect x="149.4" y="3.3" width="701.3" height="993.1" stroke="#111" stroke-width="2.0" fill="none"/>
<text x="169.3" y="47" font-size="36" font-weight="normal" fill="#111" text-anchor="start" textLength="451.99" lengthAdjust="spacing" transform="translate(169.3 47) scale(0.56 1) translate(-169.3 -47)">RCS 3/140-S2.6-D-S-49</text>
<text x="170" y="74" font-size="25" font-weight="bold" fill="#151515" text-anchor="start" stroke="#151515" stroke-width="0.7" stroke-linejoin="round" textLength="215.42" lengthAdjust="spacing" transform="translate(170 74) scale(0.41 1) translate(-170 -74)">step flywheel</text>
<rect x="795.6" y="16.6" width="41.6" height="41.6" fill="#0a0a0a"/>
<circle cx="816.2" cy="37.6" r="19" fill="none" stroke="#f4f4f4" stroke-width="1.3"/>
<path d="M800.6,26.4 H831.6 V28.1 H800.6 Z M803.4,46.1 H831 V47.9 H803.4 Z" fill="#f4f4f4"/>
<path d="M809.8,27.5 H816.4 L809.4,46.5 H803.2 Z" fill="#f4f4f4"/>
<path d="M817.8,27.5 H822.4 V44 H817.8 Z M822.4,35.4 H827.6 V37.6 H822.4 Z" fill="#f4f4f4"/>
<line x1="188.5" y1="207.5" x2="477.5" y2="207.5" stroke="#2a2a2a" stroke-width="0.9"/>
<line x1="188.5" y1="766.5" x2="477.5" y2="766.5" stroke="#2a2a2a" stroke-width="0.9"/>
<line x1="195" y1="207.5" x2="195" y2="766.5" stroke="#2a2a2a" stroke-width="0.9"/>
<path d="M195,207.5 L196.8,219 L193.2,219 Z" fill="#1a1a1a"/>
<path d="M195,766.5 L193.2,755 L196.8,755 Z" fill="#1a1a1a"/>
<line x1="220.7" y1="228.6" x2="477.5" y2="228.6" stroke="#2a2a2a" stroke-width="0.9"/>
<line x1="220.7" y1="745.4" x2="477.5" y2="745.4" stroke="#2a2a2a" stroke-width="0.9"/>
<line x1="226.8" y1="228.6" x2="226.8" y2="745.4" stroke="#2a2a2a" stroke-width="0.9"/>
<path d="M226.8,228.6 L228.6,240.1 L225,240.1 Z" fill="#1a1a1a"/>
<path d="M226.8,745.4 L225,733.9 L228.6,733.9 Z" fill="#1a1a1a"/>
<line x1="256.5" y1="249" x2="477.5" y2="249" stroke="#2a2a2a" stroke-width="0.9"/>
<line x1="256.5" y1="725" x2="477.5" y2="725" stroke="#2a2a2a" stroke-width="0.9"/>
<line x1="262" y1="249" x2="262" y2="725" stroke="#2a2a2a" stroke-width="0.9"/>
<path d="M262,249 L263.8,260.5 L260.2,260.5 Z" fill="#1a1a1a"/>
<path d="M262,725 L260.2,713.5 L263.8,713.5 Z" fill="#1a1a1a"/>
<line x1="313" y1="321.7" x2="477.5" y2="321.7" stroke="#2a2a2a" stroke-width="0.9"/>
<line x1="313" y1="652.3" x2="477.5" y2="652.3" stroke="#2a2a2a" stroke-width="0.9"/>
<line x1="319.2" y1="321.7" x2="319.2" y2="652.3" stroke="#2a2a2a" stroke-width="0.9"/>
<path d="M319.2,321.7 L321,333.2 L317.4,333.2 Z" fill="#1a1a1a"/>
<path d="M319.2,652.3 L317.4,640.8 L321,640.8 Z" fill="#1a1a1a"/>
<line x1="343" y1="371" x2="477.5" y2="371" stroke="#2a2a2a" stroke-width="0.9"/>
<line x1="343" y1="603" x2="477.5" y2="603" stroke="#2a2a2a" stroke-width="0.9"/>
<line x1="349" y1="371" x2="349" y2="603" stroke="#2a2a2a" stroke-width="0.9"/>
<path d="M349,371 L350.8,382.5 L347.2,382.5 Z" fill="#1a1a1a"/>
<path d="M349,603 L347.2,591.5 L350.8,591.5 Z" fill="#1a1a1a"/>
<line x1="376" y1="419.8" x2="443" y2="419.8" stroke="#2a2a2a" stroke-width="0.9"/>
<line x1="376" y1="554.2" x2="443" y2="554.2" stroke="#2a2a2a" stroke-width="0.9"/>
<line x1="382.2" y1="419.8" x2="382.2" y2="554.2" stroke="#2a2a2a" stroke-width="0.9"/>
<path d="M382.2,419.8 L384,431.3 L380.4,431.3 Z" fill="#1a1a1a"/>
<path d="M382.2,554.2 L380.4,542.7 L384,542.7 Z" fill="#1a1a1a"/>
<text x="192.6" y="504" font-size="17.5" font-weight="normal" fill="#1a1a1a" text-anchor="start" textLength="49.14" lengthAdjust="spacing" transform="rotate(-90 192.6 504) translate(192.6 504) scale(0.66 1) translate(-192.6 -504)">Ø167</text>
<rect x="201.2" y="454" width="23.4" height="63.3" stroke="#2a2a2a" stroke-width="0.9" fill="none"/>
<text x="221.3" y="512.4" font-size="18.5" font-weight="normal" fill="#1a1a1a" text-anchor="start" textLength="86.15" lengthAdjust="spacing" transform="rotate(-90 221.3 512.4) translate(221.3 512.4) scale(0.58 1) translate(-221.3 -512.4)">Ø154.45</text>
<text x="260.6" y="592.2" font-size="17.5" font-weight="normal" fill="#1a1a1a" text-anchor="start" textLength="117.64" lengthAdjust="spacing" transform="rotate(-90 260.6 592.2) translate(260.6 592.2) scale(0.54 1) translate(-260.6 -592.2)">Ø142.67 H8</text>
<text x="259" y="528.2" font-size="20" font-weight="normal" fill="#1a1a1a" text-anchor="start" textLength="6" lengthAdjust="spacingAndGlyphs" transform="rotate(-90 259 528.2)">(</text>
<text x="251" y="520.7" font-size="8.5" font-weight="normal" fill="#1a1a1a" text-anchor="start" textLength="33.8" lengthAdjust="spacing" transform="rotate(-90 251 520.7) translate(251 520.7) scale(1 1) translate(-251 -520.7)">+0.063</text>
<text x="259" y="487.5" font-size="20" font-weight="normal" fill="#1a1a1a" text-anchor="start" textLength="6" lengthAdjust="spacingAndGlyphs" transform="rotate(-90 259 487.5)">)</text>
<text x="259.5" y="476" font-size="14" font-weight="normal" fill="#1a1a1a" text-anchor="start" textLength="164.78" lengthAdjust="spacing" transform="rotate(-90 259.5 476) translate(259.5 476) scale(0.58 1) translate(-259.5 -476)">KUPPLUNG/CLUTCH</text>
<text x="282.9" y="525.3" font-size="15" font-weight="normal" fill="#1a1a1a" text-anchor="start" textLength="19.22" lengthAdjust="spacing" transform="rotate(-90 282.9 525.3) translate(282.9 525.3) scale(0.47 1) translate(-282.9 -525.3)">h7</text>
<text x="281.5" y="514.5" font-size="17" font-weight="normal" fill="#1a1a1a" text-anchor="start" textLength="5" lengthAdjust="spacingAndGlyphs" transform="rotate(-90 281.5 514.5)">(</text>
<text x="282.9" y="509" font-size="7.5" font-weight="normal" fill="#1a1a1a" text-anchor="start" textLength="24.62" lengthAdjust="spacing" transform="rotate(-90 282.9 509) translate(282.9 509) scale(0.89 1) translate(-282.9 -509)">-0.035</text>
<text x="281.5" y="487.5" font-size="17" font-weight="normal" fill="#1a1a1a" text-anchor="start" textLength="5" lengthAdjust="spacingAndGlyphs" transform="rotate(-90 281.5 487.5)">)</text>
<text x="283.4" y="478" font-size="15" font-weight="normal" fill="#1a1a1a" text-anchor="start" textLength="205.74" lengthAdjust="spacing" transform="rotate(-90 283.4 478) translate(283.4 478) scale(0.56 1) translate(-283.4 -478)">Schwungrad/FLYWHEEL</text>
<text x="316.5" y="517.5" font-size="16" font-weight="normal" fill="#1a1a1a" text-anchor="start" textLength="70.35" lengthAdjust="spacing" transform="rotate(-90 316.5 517.5) translate(316.5 517.5) scale(0.85 1) translate(-316.5 -517.5)">Ø98.9±2</text>
<text x="347" y="502" font-size="17" font-weight="normal" fill="#1a1a1a" text-anchor="start" textLength="35.46" lengthAdjust="spacing" transform="rotate(-90 347 502) translate(347 502) scale(0.82 1) translate(-347 -502)">Ø70</text>
<text x="380.5" y="520.5" font-size="16" font-weight="normal" fill="#1a1a1a" text-anchor="start" textLength="92.63" lengthAdjust="spacing" transform="rotate(-90 380.5 520.5) translate(380.5 520.5) scale(0.71 1) translate(-380.5 -520.5)">max Ø40.5</text>
<text x="392" y="528.2" font-size="18" font-weight="normal" fill="#1a1a1a" text-anchor="start" textLength="73.2" lengthAdjust="spacing" transform="translate(392 528.2) scale(0.51 1) translate(-392 -528.2)">max 32</text>
<line x1="392" y1="530.6" x2="443" y2="530.6" stroke="#2a2a2a" stroke-width="0.9"/>
<path d="M443,530.6 L431.5,532.4 L431.5,528.8 Z" fill="#1a1a1a"/>
<text x="385.3" y="289.7" font-size="17" font-weight="normal" fill="#1a1a1a" text-anchor="start" textLength="87.83" lengthAdjust="spacing" transform="translate(385.3 289.7) scale(0.53 1) translate(-385.3 -289.7)">max 14.0</text>
<line x1="385" y1="293" x2="482" y2="293" stroke="#2a2a2a" stroke-width="0.9"/>
<path d="M442.6,293 L454.1,291.2 L454.1,294.8 Z" fill="#1a1a1a"/>
<path d="M481,293 L469.5,294.8 L469.5,291.2 Z" fill="#1a1a1a"/>
<line x1="442.5" y1="286" x2="442.5" y2="420" stroke="#2a2a2a" stroke-width="0.9"/>
<line x1="477.3" y1="100" x2="477.3" y2="207.5" stroke="#2a2a2a" stroke-width="0.9"/>
<line x1="604.8" y1="100" x2="604.8" y2="167" stroke="#2a2a2a" stroke-width="0.9"/>
<line x1="604.8" y1="167" x2="689" y2="205" stroke="#2a2a2a" stroke-width="0.9"/>
<line x1="689" y1="205" x2="689" y2="365" stroke="#2a2a2a" stroke-width="0.9"/>
<line x1="689" y1="365" x2="608" y2="406" stroke="#2a2a2a" stroke-width="0.9"/>
<line x1="477.3" y1="108.5" x2="604.8" y2="108.5" stroke="#2a2a2a" stroke-width="0.9"/>
<path d="M477.3,108.5 L488.8,106.7 L488.8,110.3 Z" fill="#1a1a1a"/>
<path d="M604.8,108.5 L593.3,110.3 L593.3,106.7 Z" fill="#1a1a1a"/>
<text x="507.5" y="105" font-size="16.7" font-weight="normal" fill="#1a1a1a" text-anchor="start" textLength="110.55" lengthAdjust="spacing" transform="translate(507.5 105) scale(0.61 1) translate(-507.5 -105)">SUH 43.4±1</text>
<text x="341" y="136.6" font-size="16.5" font-weight="normal" fill="#1a1a1a" text-anchor="start" textLength="201.17" lengthAdjust="spacing" transform="translate(341 136.6) scale(0.58 1) translate(-341 -136.6)">Schwungrad 2.5±0.04</text>
<text x="341" y="156.5" font-size="15.3" font-weight="normal" fill="#1a1a1a" text-anchor="start" textLength="97.84" lengthAdjust="spacing" transform="translate(341 156.5) scale(0.52 1) translate(-341 -156.5)">FLYWHEEL</text>
<line x1="341" y1="139" x2="510" y2="139" stroke="#2a2a2a" stroke-width="0.9"/>
<path d="M477,139 L465.5,140.8 L465.5,137.2 Z" fill="#1a1a1a"/>
<path d="M486,139 L497.5,137.2 L497.5,140.8 Z" fill="#1a1a1a"/>
<line x1="485.8" y1="133" x2="485.8" y2="251" stroke="#2a2a2a" stroke-width="0.9"/>
<text x="379" y="177.5" font-size="16.5" font-weight="normal" fill="#1a1a1a" text-anchor="start" textLength="166.69" lengthAdjust="spacing" transform="translate(379 177.5) scale(0.52 1) translate(-379 -177.5)">neue Scheibe 2.6</text>
<text x="379" y="197.4" font-size="16.5" font-weight="normal" fill="#1a1a1a" text-anchor="start" textLength="100.84" lengthAdjust="spacing" transform="translate(379 197.4) scale(0.5 1) translate(-379 -197.4)">NEW DISC</text>
<line x1="379" y1="180.3" x2="518" y2="180.3" stroke="#2a2a2a" stroke-width="0.9"/>
<path d="M485.8,180.3 L474.3,182.1 L474.3,178.5 Z" fill="#1a1a1a"/>
<path d="M494.2,180.3 L505.7,178.5 L505.7,182.1 Z" fill="#1a1a1a"/>
<line x1="494" y1="172" x2="494" y2="251" stroke="#2a2a2a" stroke-width="0.9"/>
<text x="644.5" y="238" font-size="14" font-weight="normal" fill="#1a1a1a" text-anchor="start" textLength="19.74" lengthAdjust="spacing" transform="rotate(-28 644.5 238) translate(644.5 238) scale(0.61 1) translate(-644.5 -238)">R1</text>
<line x1="616.6" y1="254" x2="659.2" y2="235.4" stroke="#2a2a2a" stroke-width="0.9"/>
<path d="M616.6,254 L626.42,247.75 L627.86,251.05 Z" fill="#1a1a1a"/>
<line x1="620" y1="214.4" x2="722" y2="214.4" stroke="#2a2a2a" stroke-width="0.9"/>
<line x1="615" y1="242.5" x2="722" y2="242.5" stroke="#2a2a2a" stroke-width="0.9"/>
<line x1="715.8" y1="114.5" x2="715.8" y2="266" stroke="#2a2a2a" stroke-width="0.9"/>
<path d="M715.8,214.4 L714,202.9 L717.6,202.9 Z" fill="#1a1a1a"/>
<path d="M715.8,242.5 L717.6,254 L714,254 Z" fill="#1a1a1a"/>
<text x="712.5" y="196" font-size="16.5" font-weight="normal" fill="#1a1a1a" text-anchor="start" textLength="114.51" lengthAdjust="spacing" transform="rotate(-90 712.5 196) translate(712.5 196) scale(0.7 1) translate(-712.5 -196)">Ø8.4 (8x45°)</text>
<line x1="645" y1="256.4" x2="764" y2="256.4" stroke="#2a2a2a" stroke-width="0.9"/>
<line x1="757" y1="215" x2="757" y2="256.4" stroke="#2a2a2a" stroke-width="0.9"/>
<path d="M757,256.4 L755.2,244.9 L758.8,244.9 Z" fill="#1a1a1a"/>
<text x="753.5" y="241" font-size="16" font-weight="normal" fill="#1a1a1a" text-anchor="start" textLength="33.69" lengthAdjust="spacing" transform="rotate(-90 753.5 241) translate(753.5 241) scale(0.74 1) translate(-753.5 -241)">Ø17</text>
<line x1="654" y1="302.5" x2="730" y2="302.5" stroke="#2a2a2a" stroke-width="0.9"/>
<path d="M672.5,302.5 L661,304.3 L661,300.7 Z" fill="#1a1a1a"/>
<path d="M705.5,302.5 L717,300.7 L717,304.3 Z" fill="#1a1a1a"/>
<line x1="672.5" y1="297" x2="672.5" y2="330" stroke="#2a2a2a" stroke-width="0.9"/>
<line x1="705.5" y1="297" x2="705.5" y2="330" stroke="#2a2a2a" stroke-width="0.9"/>
<circle cx="689" cy="302.5" r="1.6" fill="#111"/>
<text x="676.7" y="299.8" font-size="16" font-weight="normal" fill="#1a1a1a" text-anchor="start" textLength="6.6" lengthAdjust="spacingAndGlyphs">X</text>
<text x="693.8" y="299.8" font-size="16" font-weight="normal" fill="#1a1a1a" text-anchor="start" textLength="6" lengthAdjust="spacingAndGlyphs">Y</text>
<line x1="617" y1="420" x2="712" y2="420" stroke="#2a2a2a" stroke-width="0.9"/>
<line x1="617" y1="554" x2="712" y2="554" stroke="#2a2a2a" stroke-width="0.9"/>
<line x1="706" y1="420" x2="706" y2="554" stroke="#2a2a2a" stroke-width="0.9"/>
<path d="M706,420 L707.8,431.5 L704.2,431.5 Z" fill="#1a1a1a"/>
<path d="M706,554 L704.2,542.5 L707.8,542.5 Z" fill="#1a1a1a"/>
<line x1="617" y1="409.7" x2="746" y2="409.7" stroke="#2a2a2a" stroke-width="0.9"/>
<line x1="617" y1="564.3" x2="746" y2="564.3" stroke="#2a2a2a" stroke-width="0.9"/>
<line x1="740.5" y1="409.7" x2="740.5" y2="564.3" stroke="#2a2a2a" stroke-width="0.9"/>
<path d="M740.5,409.7 L742.3,421.2 L738.7,421.2 Z" fill="#1a1a1a"/>
<path d="M740.5,564.3 L738.7,552.8 L742.3,552.8 Z" fill="#1a1a1a"/>
<line x1="607" y1="404" x2="777" y2="404" stroke="#2a2a2a" stroke-width="0.9"/>
<line x1="607" y1="568" x2="777" y2="568" stroke="#2a2a2a" stroke-width="0.9"/>
<line x1="771" y1="404" x2="771" y2="568" stroke="#2a2a2a" stroke-width="0.9"/>
<path d="M771,404 L772.8,415.5 L769.2,415.5 Z" fill="#1a1a1a"/>
<path d="M771,568 L769.2,556.5 L772.8,556.5 Z" fill="#1a1a1a"/>
<line x1="656" y1="365" x2="830" y2="365" stroke="#2a2a2a" stroke-width="0.9"/>
<line x1="656" y1="608" x2="830" y2="608" stroke="#2a2a2a" stroke-width="0.9"/>
<line x1="824" y1="365" x2="824" y2="608" stroke="#2a2a2a" stroke-width="0.9"/>
<path d="M824,365 L825.8,376.5 L822.2,376.5 Z" fill="#1a1a1a"/>
<path d="M824,608 L822.2,596.5 L825.8,596.5 Z" fill="#1a1a1a"/>
<text x="703.5" y="521" font-size="16" font-weight="normal" fill="#1a1a1a" text-anchor="start" textLength="92.38" lengthAdjust="spacing" transform="rotate(-90 703.5 521) translate(703.5 521) scale(0.73 1) translate(-703.5 -521)">max Ø40.5</text>
<text x="737.5" y="501" font-size="16.5" font-weight="normal" fill="#1a1a1a" text-anchor="start" textLength="34.37" lengthAdjust="spacing" transform="rotate(-90 737.5 501) translate(737.5 501) scale(0.83 1) translate(-737.5 -501)">Ø46</text>
<text x="768.5" y="502" font-size="16.5" font-weight="normal" fill="#1a1a1a" text-anchor="start" textLength="34.25" lengthAdjust="spacing" transform="rotate(-90 768.5 502) translate(768.5 502) scale(0.86 1) translate(-768.5 -502)">Ø49</text>
<text x="790.5" y="547.5" font-size="16" font-weight="normal" fill="#1a1a1a" text-anchor="start" textLength="219.77" lengthAdjust="spacing" transform="rotate(-90 790.5 547.5) translate(790.5 547.5) scale(0.53 1) translate(-790.5 -547.5)">Ausrück Ø /RELEASE Ø</text>
<text x="822" y="500" font-size="16.5" font-weight="normal" fill="#1a1a1a" text-anchor="start" textLength="34.5" lengthAdjust="spacing" transform="rotate(-90 822 500) translate(822 500) scale(0.8 1) translate(-822 -500)">Ø73</text>
<line x1="477.3" y1="766" x2="477.3" y2="848" stroke="#2a2a2a" stroke-width="0.9"/>
<line x1="615.5" y1="766" x2="615.5" y2="806" stroke="#2a2a2a" stroke-width="0.9"/>
<line x1="655.5" y1="600" x2="655.5" y2="848" stroke="#2a2a2a" stroke-width="0.9"/>
<line x1="477.3" y1="798.6" x2="615.5" y2="798.6" stroke="#2a2a2a" stroke-width="0.9"/>
<path d="M477.3,798.6 L488.8,796.8 L488.8,800.4 Z" fill="#1a1a1a"/>
<path d="M615.5,798.6 L604,800.4 L604,796.8 Z" fill="#1a1a1a"/>
<text x="535" y="795.6" font-size="16" font-weight="normal" fill="#1a1a1a" text-anchor="start" textLength="37.91" lengthAdjust="spacing" transform="translate(535 795.6) scale(0.57 1) translate(-535 -795.6)">41.4</text>
<line x1="477.3" y1="844.5" x2="655.5" y2="844.5" stroke="#2a2a2a" stroke-width="0.9"/>
<path d="M477.3,844.5 L488.8,842.7 L488.8,846.3 Z" fill="#1a1a1a"/>
<path d="M655.5,844.5 L644,846.3 L644,842.7 Z" fill="#1a1a1a"/>
<text x="544.6" y="838.7" font-size="17" font-weight="normal" fill="#1a1a1a" text-anchor="start" textLength="39.86" lengthAdjust="spacing" transform="translate(544.6 838.7) scale(0.6 1) translate(-544.6 -838.7)">53.4</text>
<text x="569" y="831.5" font-size="10" font-weight="normal" fill="#1a1a1a" text-anchor="start" textLength="22.78" lengthAdjust="spacing" transform="translate(569 831.5) scale(0.79 1) translate(-569 -831.5)">+0.5</text>
<text x="209.2" y="875.9" font-size="15.5" font-weight="bold" fill="#1a1a1a" text-anchor="start" textLength="118.25" lengthAdjust="spacing" transform="translate(209.2 875.9) scale(0.43 1) translate(-209.2 -875.9)">Ausrückweg</text>
<text x="209.2" y="889" font-size="15.5" font-weight="bold" fill="#1a1a1a" text-anchor="start" textLength="138.38" lengthAdjust="spacing" transform="translate(209.2 889) scale(0.41 1) translate(-209.2 -889)">release travel</text>
<text x="271.5" y="885.8" font-size="21" font-weight="normal" fill="#1a1a1a" text-anchor="start" textLength="80.29" lengthAdjust="spacing" transform="translate(271.5 885.8) scale(0.77 1) translate(-271.5 -885.8)">X = 4.0</text>
<text x="333" y="872.6" font-size="13" font-weight="bold" fill="#1a1a1a" text-anchor="start" textLength="30.41" lengthAdjust="spacing" transform="translate(333 872.6) scale(0.66 1) translate(-333 -872.6)">+0.5</text>
<text x="361.7" y="885.8" font-size="21" font-weight="normal" fill="#1a1a1a" text-anchor="start" textLength="37.73" lengthAdjust="spacing" transform="translate(361.7 885.8) scale(0.61 1) translate(-361.7 -885.8)">mm</text>
<text x="209.2" y="915.5" font-size="15.5" font-weight="bold" fill="#1a1a1a" text-anchor="start" textLength="145.03" lengthAdjust="spacing" transform="translate(209.2 915.5) scale(0.4 1) translate(-209.2 -915.5)">Verschleißweg</text>
<text x="209.2" y="928.7" font-size="15.5" font-weight="bold" fill="#1a1a1a" text-anchor="start" textLength="110.19" lengthAdjust="spacing" transform="translate(209.2 928.7) scale(0.42 1) translate(-209.2 -928.7)">wear travel</text>
<text x="272.6" y="926.5" font-size="21" font-weight="normal" fill="#1a1a1a" text-anchor="start" textLength="192.33" lengthAdjust="spacing" transform="translate(272.6 926.5) scale(0.7 1) translate(-272.6 -926.5)">Y = max. 4.5 mm</text>
<text x="213.4" y="957" font-size="10" font-weight="bold" fill="#222" text-anchor="start" textLength="1038.38" lengthAdjust="spacing" transform="translate(213.4 957) scale(0.36 1) translate(-213.4 -957)">FUER DIESE ZEICHNUNG BEHALTEN WIR UNS ALLE RECHTE VOR. AUCH FUER DEN FALL DER ANMELDUNG VON SCHUTZRECHTEN. VERVIELFAELTIGUNG,</text>
<text x="213.4" y="966.6" font-size="10" font-weight="bold" fill="#222" text-anchor="start" textLength="1062.52" lengthAdjust="spacing" transform="translate(213.4 966.6) scale(0.35 1) translate(-213.4 -966.6)">WEITERGABE AN DRITTE UND SONSTIGE VERWERTUNG SIND OHNE UNSERE EINWILLIGUNG UNZULAESSIG. DIE ZEICHNUNG VERBLEIBT UNSER EIGENTUM.</text>
<text x="213.4" y="981.6" font-size="10" font-weight="bold" fill="#222" text-anchor="start" textLength="995.2" lengthAdjust="spacing" transform="translate(213.4 981.6) scale(0.36 1) translate(-213.4 -981.6)">WE RESERVE ALL RIGHTS FOR THIS DRAWING. EVEN IN CASE OF APPLICATION FOR PATENTS RIGHTS, REPRODUCTIONS, TRANSMITTAL TO THIRD</text>
<text x="213.4" y="990.6" font-size="10" font-weight="bold" fill="#222" text-anchor="start" textLength="767.35" lengthAdjust="spacing" transform="translate(213.4 990.6) scale(0.36 1) translate(-213.4 -990.6)">PARTIES, OR OTHER USE ARE NOT ALLOWED WITHOUT OUR CONSENT. THIS DRAWING REMAINS OUR PROPERTY.</text>
<text x="722.2" y="970.2" font-size="18" font-weight="normal" fill="#1a1a1a" text-anchor="start" textLength="262.41" lengthAdjust="spacing" transform="translate(722.2 970.2) scale(0.45 1) translate(-722.2 -970.2)">Stand/issued: Juni 2013</text>
<text x="782.6" y="982.5" font-size="11.3" font-weight="normal" fill="#1a1a1a" text-anchor="start" textLength="91.29" lengthAdjust="spacing" transform="translate(782.6 982.5) scale(0.63 1) translate(-782.6 -982.5)">000004022823</text>
</svg>
</body></html>
